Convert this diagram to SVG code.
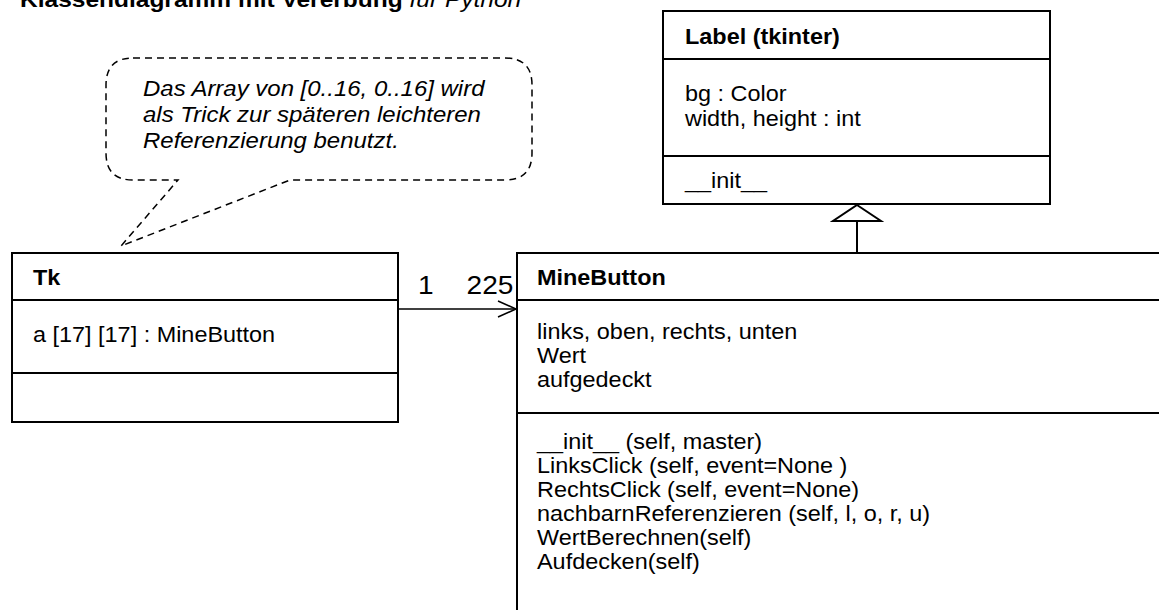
<svg xmlns="http://www.w3.org/2000/svg" width="1159" height="610" viewBox="0 0 1159 610">
  <style>
    text { font-family: "Liberation Sans", Arial, sans-serif; font-size: 21.5px; fill: #000; }
    .name { font-weight: bold; }
    .note { font-style: italic; font-size: 22px; }
    .mult { font-size: 26px; }
    .title { font-size: 22.5px; font-weight: bold; }
    .box { fill: #fff; stroke: #000; stroke-width: 2; }
    .div { stroke: #000; stroke-width: 2; fill: none; }
    .dash { fill: #fff; stroke: #000; stroke-width: 1.5; stroke-dasharray: 7 5; }
    .conn { stroke: #000; stroke-width: 1.5; fill: none; }
  </style>
  <defs>
    <marker id="open" markerWidth="22" markerHeight="22" refX="20" refY="10" orient="auto" markerUnits="userSpaceOnUse">
      <path d="M2,2 L20,10 L2,18" fill="none" stroke="#000" stroke-width="1.5"/>
    </marker>
  </defs>
  <rect width="1159" height="610" fill="#fff"/>

  <!-- heading, partly above the top edge (glyphs set slightly wide) -->
  <g transform="translate(20 0) scale(1.09 1)">
    <text class="title" x="0" y="7">Klassendiagramm mit Vererbung <tspan font-weight="normal" font-style="italic">für Python</tspan></text>
  </g>

  <!-- note bubble -->
  <g id="note">
    <path class="dash" d="M133,58 H505 Q532,58 532,85 V153 Q532,180 505,180 H290 L121,246 L178,180 H133 Q106,180 106,153 V85 Q106,58 133,58 Z"/>
    <g transform="translate(143 0) scale(1.09 1)">
      <text class="note" x="0" y="96">Das Array von [0..16, 0..16] wird</text>
      <text class="note" x="0" y="122">als Trick zur späteren leichteren</text>
      <text class="note" x="0" y="148">Referenzierung benutzt.</text>
    </g>
  </g>

  <!-- class Label (tkinter) -->
  <g id="label">
    <rect class="box" x="663" y="11" width="387" height="193"/>
    <line class="div" x1="663" y1="59" x2="1050" y2="59"/>
    <line class="div" x1="663" y1="156" x2="1050" y2="156"/>
    <g transform="translate(685 0) scale(1.09 1)">
      <text class="name" x="0" y="44">Label (tkinter)</text>
      <text x="0" y="101">bg : Color</text>
      <text x="0" y="126">width, height : int</text>
      <text x="0" y="188">__init__</text>
    </g>
  </g>

  <!-- class Tk -->
  <g id="tk">
    <rect class="box" x="12" y="253" width="386" height="169"/>
    <line class="div" x1="12" y1="300" x2="398" y2="300"/>
    <line class="div" x1="12" y1="373" x2="398" y2="373"/>
    <g transform="translate(33 0) scale(1.09 1)">
      <text class="name" x="0" y="285">Tk</text>
      <text x="0" y="342">a [17] [17] : MineButton</text>
    </g>
  </g>

  <!-- class MineButton, running past the right and bottom edges -->
  <g id="minebutton">
    <rect class="box" x="517" y="253" width="660" height="380"/>
    <line class="div" x1="517" y1="300" x2="1159" y2="300"/>
    <line class="div" x1="517" y1="413" x2="1159" y2="413"/>
    <g transform="translate(537 0) scale(1.09 1)">
      <text class="name" x="0" y="285">MineButton</text>
      <text x="0" y="339">links, oben, rechts, unten</text>
      <text x="0" y="363">Wert</text>
      <text x="0" y="387">aufgedeckt</text>
      <text x="0" y="449">__init__ (self, master)</text>
      <text x="0" y="473">LinksClick (self, event=None )</text>
      <text x="0" y="497">RechtsClick (self, event=None)</text>
      <text x="0" y="521">nachbarnReferenzieren (self, l, o, r, u)</text>
      <text x="0" y="545">WertBerechnen(self)</text>
      <text x="0" y="569">Aufdecken(self)</text>
    </g>
  </g>

  <!-- connectors -->
  <g id="connectors">
    <line class="conn" x1="398" y1="309" x2="516" y2="309" marker-end="url(#open)"/>
    <g transform="translate(418 0) scale(1.08 1)">
      <text class="mult" x="0" y="294">1</text>
      <text class="mult" x="45" y="294">225</text>
    </g>
    <line class="div" x1="857" y1="221" x2="857" y2="253"/>
    <path class="div" d="M857,205 L881,221 L833,221 Z" fill="#fff"/>
  </g>
</svg>
